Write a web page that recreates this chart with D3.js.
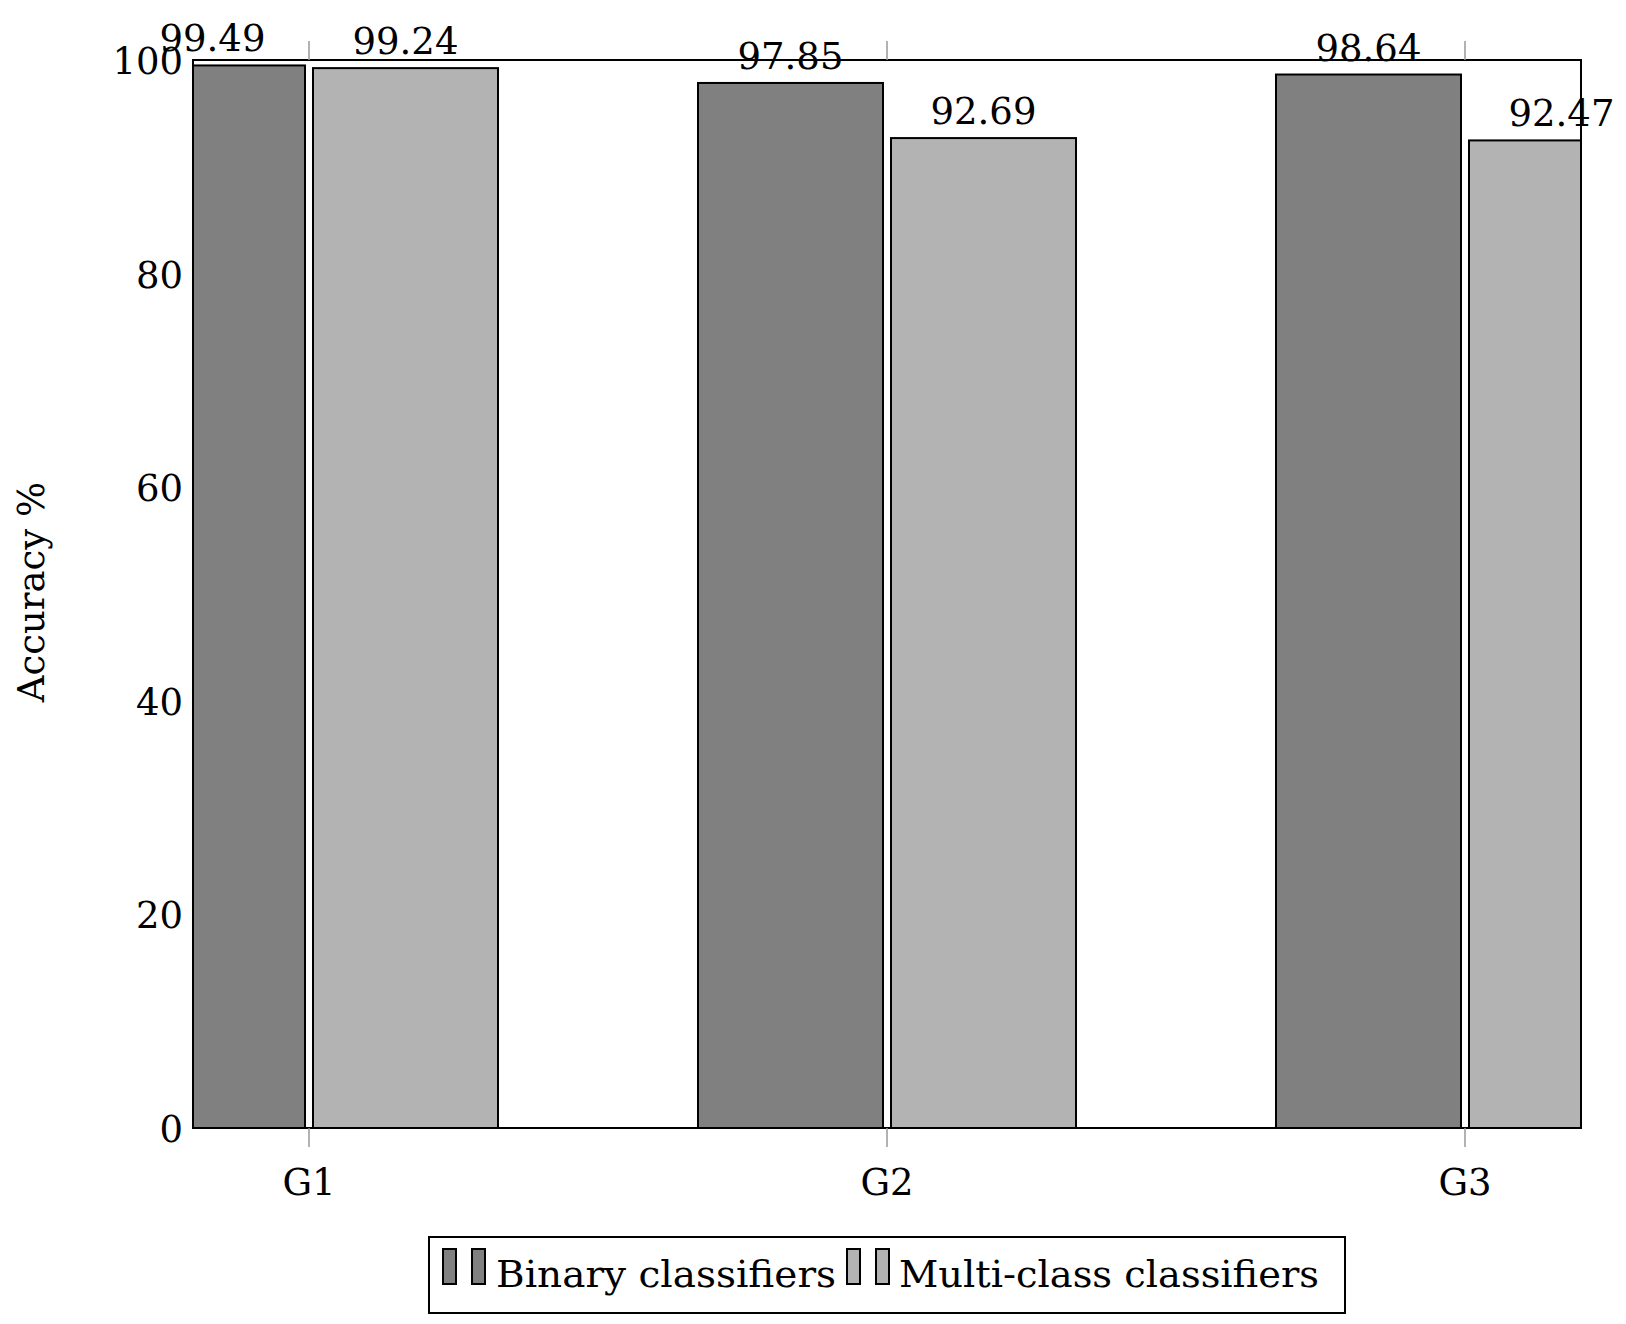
<!DOCTYPE html><html><head><meta charset="utf-8">
<script src="https://cdn.jsdelivr.net/npm/d3@7"></script>
<style>body{margin:0;background:#fff}text{font-family:"DejaVu Serif","Liberation Serif",serif}</style></head><body>
<svg id="c" width="1626" height="1324"></svg>
<script>
const categories=["G1","G2","G3"];
const seriesNames=["Binary classifiers","Multi-class classifiers"];
const binary=[99.49,97.85,98.64];
const multi=[99.24,92.69,92.47];
const yTicks=[0,20,40,60,80,100];
const colors=["#808080","#b3b3b3"];
const svg=d3.select("#c");
const L=193,R=1581,T=60,B=1128;
const x=d3.scalePoint().domain(categories).range([309,1465]);
const y=d3.scaleLinear().domain([0,100]).range([B,T]);
svg.append("defs").append("clipPath").attr("id","cp").append("rect").attr("x",L).attr("y",0).attr("width",R-L).attr("height",B);
const g=svg.append("g").attr("clip-path","url(#cp)");
const bw=185,gap=4,fs=37;
[binary,multi].forEach((vals,s)=>{
  vals.forEach((v,i)=>{
    const bx=s===0?x(categories[i])-gap-bw:x(categories[i])+gap;
    g.append("rect").attr("x",bx).attr("y",y(v)).attr("width",bw).attr("height",B-y(v)).attr("fill",colors[s]).attr("stroke","#000").attr("stroke-width",2);
    svg.append("text").attr("x",bx+bw/2).attr("y",y(v)-14).attr("text-anchor","middle").attr("font-size",fs).text(v.toFixed(2));
  });
});
svg.append("rect").attr("x",L).attr("y",T).attr("width",R-L).attr("height",B-T).attr("fill","none").attr("stroke","#000").attr("stroke-width",2);
categories.forEach(c=>{
  svg.append("line").attr("x1",x(c)).attr("x2",x(c)).attr("y1",T-19).attr("y2",T).attr("stroke","#999").attr("stroke-width",1.5);
  svg.append("line").attr("x1",x(c)).attr("x2",x(c)).attr("y1",B).attr("y2",B+19).attr("stroke","#999").attr("stroke-width",1.5);
  svg.append("text").attr("x",x(c)).attr("y",B+67).attr("text-anchor","middle").attr("font-size",fs).text(c);
});
yTicks.forEach(t=>{
  svg.append("text").attr("x",L-10).attr("y",y(t)+14).attr("text-anchor","end").attr("font-size",fs).text(t);
});
svg.append("text").attr("transform","translate(44,592) rotate(-90)").attr("text-anchor","middle").attr("font-size",fs).text("Accuracy %");
svg.append("rect").attr("x",429).attr("y",1237).attr("width",916).attr("height",76).attr("fill","#fff").attr("stroke","#000").attr("stroke-width",2);
const lg=[{x:443,tx:496},{x:847,tx:899}];
lg.forEach((l,s)=>{
  [0,29].forEach(o=>svg.append("rect").attr("x",l.x+o).attr("y",1249).attr("width",13).attr("height",35).attr("fill",colors[s]).attr("stroke","#000").attr("stroke-width",2));
  svg.append("text").attr("x",l.tx).attr("y",1287).attr("font-size",fs).attr("textLength",s===0?340:420).attr("lengthAdjust","spacingAndGlyphs").text(seriesNames[s]);
});
</script></body></html>
